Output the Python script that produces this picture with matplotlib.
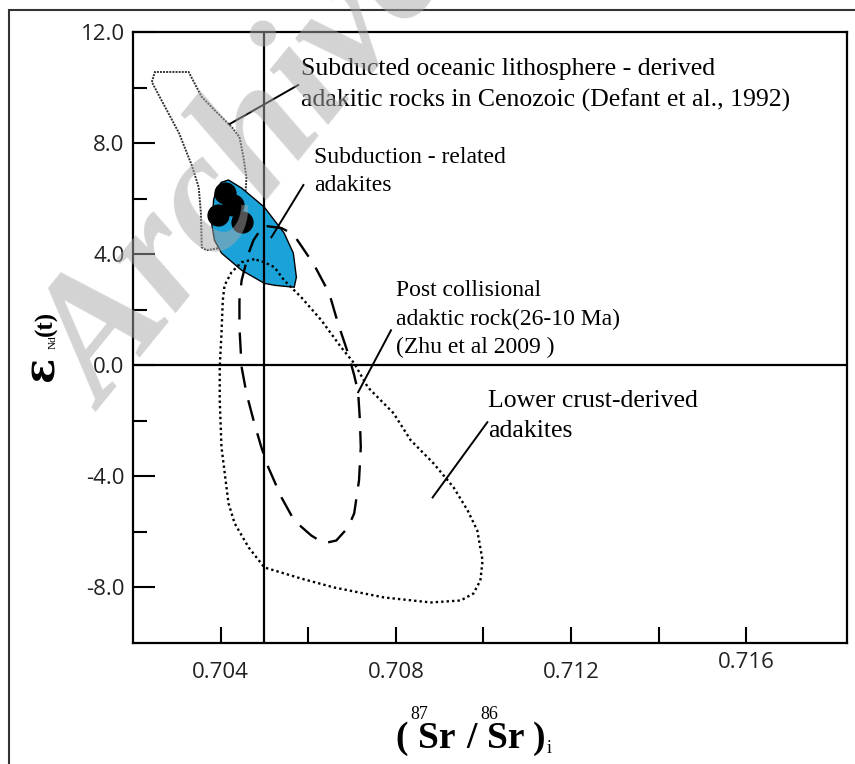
import matplotlib
matplotlib.use("Agg")
import matplotlib.pyplot as plt
import matplotlib.transforms as mtransforms
from matplotlib.patches import Polygon, Rectangle

W, H, DPI = 855, 764, 100

# --- fields (87Sr/86Sr)i , eNd(t) ---
defant_sr = [0.70243, 0.70250, 0.70327, 0.70357, 0.70386, 0.70425, 0.70443, 0.70452,
             0.70459, 0.70457, 0.70439, 0.70407, 0.70368, 0.70357, 0.70355, 0.70350,
             0.70334, 0.70305, 0.70277, 0.70255]
defant_nd = [10.20, 10.56, 10.56, 9.66, 9.19, 8.58, 8.22, 7.50,
             6.77, 6.23, 5.15, 4.25, 4.14, 4.25, 5.48, 6.41,
             7.21, 8.36, 9.19, 9.84]

subd_sr = [0.70402, 0.70418, 0.70448, 0.70500, 0.70545, 0.70566, 0.70573, 0.70568,
           0.70523, 0.70500, 0.70448, 0.70402, 0.70386, 0.70380, 0.70384, 0.70391]
subd_nd = [6.59, 6.67, 6.38, 5.69, 4.76, 4.04, 3.17, 2.81,
           2.88, 2.95, 3.42, 4.04, 4.50, 5.05, 5.95, 6.38]

post_sr = [0.70505, 0.70539, 0.70566, 0.70591, 0.70614, 0.70648, 0.70668, 0.70691,
           0.70705, 0.70714, 0.70718, 0.70720, 0.70716, 0.70705, 0.70691, 0.70664,
           0.70636, 0.70607, 0.70568, 0.70539, 0.70509, 0.70493, 0.70477, 0.70459,
           0.70448, 0.70443, 0.70443, 0.70448, 0.70464, 0.70475, 0.70489, 0.70505]
post_nd = [5.01, 4.94, 4.72, 4.14, 3.60, 2.59, 1.51, 0.43,
           -0.36, -0.97, -1.98, -2.95, -4.14, -5.33, -5.84, -6.31,
           -6.41, -6.13, -5.59, -4.76, -3.68, -2.95, -2.09, -1.01,
           -0.07, 1.37, 2.34, 3.06, 4.04, 4.50, 4.83, 5.01]

lower_sr = [0.70477, 0.70448, 0.70425, 0.70409, 0.70405, 0.70402, 0.70398, 0.70398,
            0.70402, 0.70418, 0.70432, 0.70464, 0.70500, 0.70584, 0.70659, 0.70773,
            0.70880, 0.70948, 0.70977, 0.70993, 0.70998, 0.70986, 0.70964, 0.70932,
            0.70886, 0.70834, 0.70795, 0.70736, 0.70705, 0.70675, 0.70630, 0.70584,
            0.70545, 0.70523, 0.70500, 0.70477]
lower_nd = [3.82, 3.71, 3.35, 2.88, 2.34, 1.15, -0.07, -1.26,
            -2.95, -4.97, -5.69, -6.56, -7.28, -7.68, -8.00, -8.36,
            -8.54, -8.47, -8.22, -7.75, -7.03, -5.95, -5.23, -4.40,
            -3.53, -2.70, -1.73, -0.79, 0.07, 0.65, 1.62, 2.45,
            3.06, 3.53, 3.71, 3.82]

# samples of this study
sample_sr = [0.70409, 0.70429, 0.70395, 0.70449]
sample_nd = [6.20, 5.77, 5.41, 5.16]

xticks = [0.704, 0.708, 0.712, 0.716]
xticklabels = ["0.704", "0.708", "0.712", "0.716"]
xminor = [0.706, 0.710, 0.714]
yticks = [12, 8, 4, 0, -4, -8]
yticklabels = ["12.0", "8.0", "4.0", "0.0", "-4.0", "-8.0"]
yminor = [10, 6, 2, -2, -6]

labels = [
    ("Subducted oceanic lithosphere - derived\nadakitic rocks in Cenozoic (Defant et al., 1992)",
     0.70584, 11.06, 18.5),
    ("Subduction - related\nadakites", 0.70614, 7.86, 17),
    ("Post collisional\nadaktic rock(26-10 Ma)\n(Zhu et al 2009 )", 0.70800, 3.06, 17),
    ("Lower crust-derived\nadakites", 0.71011, -0.90, 18.5),
]
leaders = [
    ([0.70420, 0.70577], [8.68, 10.09]),
    ([0.70589, 0.70516], [6.49, 4.61]),
    ([0.70789, 0.70714], [1.26, -0.97]),
    ([0.71009, 0.70884], [-2.05, -4.76]),
]

serif = "Liberation Serif"
sans = "Open Sans"

fig = plt.figure(figsize=(W / DPI, H / DPI), dpi=DPI)
ax = fig.add_axes([133 / W, (H - 643) / H, 714 / W, 611 / H])

ax.fill(defant_sr, defant_nd, fill=False, ec="#333333", lw=1.4,
        ls=(0, (1, 0.6)), zorder=2)
ax.add_patch(Polygon(list(zip(subd_sr, subd_nd)), closed=True,
                     fc="#1ba3d9", ec="black", lw=1.0, zorder=3))
ax.plot(sample_sr, sample_nd, "o", color="black", ms=15, mec="black", zorder=4)
ax.fill(post_sr, post_nd, fill=False, ec="black", lw=1.7,
        ls=(0, (9, 5.5)), zorder=5)
ax.fill(lower_sr, lower_nd, fill=False, ec="black", lw=1.7,
        ls=(0, (1, 1.3)), zorder=5)

ax.axvline(0.705, color="black", lw=1.6, zorder=6)
ax.axhline(0.0, color="black", lw=1.6, zorder=6)

for xs, ys in leaders:
    ax.plot(xs, ys, color="black", lw=1.4, zorder=7)
for txt, x, y, fs in labels:
    ax.text(x, y, txt, fontsize=fs, family=serif, va="top", ha="left",
            linespacing=1.45, zorder=8)

ax.set_xlim(0.702, 0.7183)
ax.set_ylim(-10, 12)

ax.set_xticks(xticks)
ax.set_xticklabels(xticklabels)
ax.set_xticks(xminor, minor=True)
ax.set_yticks(yticks)
ax.set_yticklabels(yticklabels)
ax.set_yticks(yminor, minor=True)
ax.tick_params(axis="x", which="both", direction="in", length=11.5, width=1.5,
               pad=14, labelsize=16, labelcolor="#222222")
ax.tick_params(axis="y", which="major", direction="in", length=16, width=1.5,
               pad=6, labelsize=16, labelcolor="#222222")
ax.tick_params(axis="y", which="minor", direction="in", length=10, width=1.5)
for lab in ax.get_xticklabels() + ax.get_yticklabels():
    lab.set_family(sans)
# the 0.716 label sits a little higher in the original
off = mtransforms.ScaledTranslation(0, 10 / DPI, fig.dpi_scale_trans)
lab716 = ax.get_xticklabels()[-1]
lab716.set_transform(lab716.get_transform() + off)

for sp in ax.spines.values():
    sp.set_linewidth(1.6)


def fx(px):
    return px / W


def fy(py):
    return 1 - py / H


# y label: eNd (t)
fig.text(fx(53), fy(381), "ε", rotation=90, rotation_mode="anchor", ha="left",
         va="baseline", fontsize=30, fontweight="bold", family="DejaVu Serif")
fig.text(fx(56), fy(349), "Nd", rotation=90, rotation_mode="anchor", ha="left",
         va="baseline", fontsize=8, family=serif)
fig.text(fx(52), fy(336), "(t)", rotation=90, rotation_mode="anchor", ha="left",
         va="baseline", fontsize=18, fontweight="bold", family=serif)

# x label: (87Sr / 86Sr)i
xl_parts = [("(", 395), ("Sr", 418), ("/", 466), ("Sr", 487), (")", 533)]
for s, px in xl_parts:
    fig.text(fx(px), fy(748), s, fontsize=27, fontweight="bold",
             family=serif, ha="left", va="baseline")
fig.text(fx(410), fy(719), "87", fontsize=13, family=serif, ha="left", va="baseline")
fig.text(fx(480), fy(719), "86", fontsize=13, family=serif, ha="left", va="baseline")
fig.text(fx(547), fy(753), "i", fontsize=13, family=serif, ha="left", va="baseline")

# outer frame
fig.add_artist(Rectangle((fx(9), -0.1), 1.2, fy(10) + 0.1, transform=fig.transFigure,
                         fill=False, ec="#333333", lw=1.5))

# archive watermark
fig.text(fx(105), fy(412), "Archive of SID", rotation=51, rotation_mode="anchor",
         ha="left", va="baseline", fontsize=125, fontweight="bold", style="italic",
         family=serif, color=(0.66, 0.66, 0.66), alpha=0.5, zorder=20)

fig.savefig("out.png", dpi=DPI)
